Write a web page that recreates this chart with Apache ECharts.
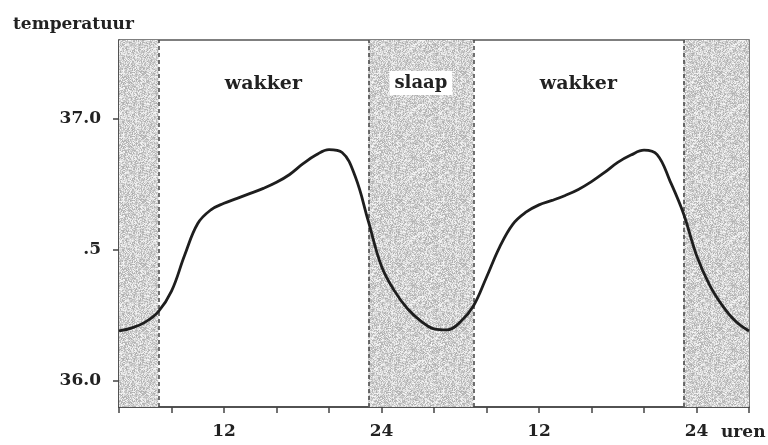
<!DOCTYPE html>
<html><head><meta charset="utf-8">
<script src="https://cdn.jsdelivr.net/npm/echarts@6/dist/echarts.min.js"></script>
<style>html,body{margin:0;padding:0;background:#fff}#c{width:768px;height:445px}</style>
</head><body><div id="c"></div>
<script>
// data
const hours = [4,5,6,7,8,9,10,11,12,13,14,15,16,17,18,19,20,21,22,23,24,25,26,27,28,29,30,31,32,33,34,35,36,37,38,39,40,41,42,43,44,45,46,47,48,49,50,51,52];
const temps = [36.190,36.202,36.224,36.264,36.342,36.479,36.600,36.652,36.677,36.696,36.715,36.734,36.757,36.787,36.827,36.861,36.882,36.871,36.779,36.608,36.437,36.342,36.274,36.228,36.198,36.194,36.224,36.285,36.395,36.510,36.597,36.643,36.671,36.688,36.707,36.730,36.760,36.795,36.833,36.861,36.880,36.863,36.760,36.639,36.479,36.365,36.285,36.226,36.190];
const sleepPeriods = [[4,7],[23,31],[47,52]];
const wakePeriods = [[7,23],[31,47]];
const sleepLabel = 'slaap';
const wakeLabel = 'wakker';
const sleepBorders = [7,23,31,47];
const xLabelValues = [12,24,36,48];
const xLabelTexts = ['12','24','12','24'];
const yLabelValues = [36.0,36.5,37.0];
const yLabelTexts = ['36.0','.5','37.0'];
const yTitle = 'temperatuur';
const xTitle = 'uren';

// stipple texture (deterministic)
const pc = document.createElement('canvas');
pc.width = 64; pc.height = 64;
const pctx = pc.getContext('2d');
const img = pctx.createImageData(64,64);
for (let j=0;j<64;j++) for (let i=0;i<64;i++) {
  let h = (i*374761393 + j*668265263) >>> 0;
  h = ((h ^ (h >>> 13)) * 1274126177) >>> 0;
  h = (h ^ (h >>> 16)) & 255;
  const g = 172 + Math.round(h/255*76);
  const k = (j*64+i)*4;
  img.data[k]=g; img.data[k+1]=g; img.data[k+2]=g; img.data[k+3]=255;
}
pctx.putImageData(img,0,0);

const font = 'DejaVu Serif';
const chart = echarts.init(document.getElementById('c'));
chart.setOption({
  animation:false,
  backgroundColor:'#fff',
  title:[
    {text:yTitle,left:8,top:11,textStyle:{fontFamily:font,fontWeight:'bold',fontSize:17,color:'#222'}},
    {text:xTitle,left:716,top:419,textStyle:{fontFamily:font,fontWeight:'bold',fontSize:17,color:'#222'}}
  ],
  grid:{left:119,right:19,top:40,bottom:38,show:true,borderColor:'#555',borderWidth:1.5,backgroundColor:'transparent'},
  xAxis:{type:'value',min:4,max:52,interval:4,
    axisLine:{show:true,lineStyle:{color:'#444',width:1.5}},
    axisTick:{show:true,length:6,lineStyle:{color:'#444',width:1.5}},
    splitLine:{show:false},
    axisLabel:{customValues:xLabelValues,margin:16,fontFamily:font,fontWeight:'bold',fontSize:17,color:'#222',
      formatter:v=>xLabelTexts[xLabelValues.indexOf(v)] ?? ''}
  },
  yAxis:{type:'value',min:35.9,max:37.3,
    axisLine:{show:true,lineStyle:{color:'#444',width:1.5}},
    axisTick:{show:true,length:6,customValues:yLabelValues,lineStyle:{color:'#444',width:1.5}},
    splitLine:{show:false},
    axisLabel:{customValues:yLabelValues,margin:18,fontFamily:font,fontWeight:'bold',fontSize:17,color:'#222',
      formatter:v=>{const i=yLabelValues.findIndex(x=>Math.abs(x-v)<1e-6);return i>=0?yLabelTexts[i]:'';}}
  },
  series:[
    {type:'line',data:[],z:1,silent:true,
      markArea:{silent:true,
        data:[
          ...sleepPeriods.map((p,idx)=>[{xAxis:p[0],itemStyle:{color:{image:pc,repeat:'repeat'}},
            label:{show:idx===1,formatter:sleepLabel,position:'insideTop',distance:31,fontFamily:font,fontWeight:'bold',fontSize:18,color:'#222',backgroundColor:'#fff',padding:[3,5]}},{xAxis:p[1]}]),
          ...wakePeriods.map(p=>[{xAxis:p[0],itemStyle:{color:'rgba(0,0,0,0)'},
            label:{show:true,formatter:wakeLabel,position:'insideTop',distance:35,fontFamily:font,fontWeight:'bold',fontSize:19,color:'#222'}},{xAxis:p[1]}])
        ]},
      markLine:{silent:true,symbol:'none',label:{show:false},
        lineStyle:{type:[4,3],color:'#444',width:1.5},
        data:sleepBorders.map(v=>({xAxis:v}))}
    },
    {type:'line',z:5,data:hours.map((h,i)=>[h,temps[i]]),smooth:0.4,showSymbol:false,
      lineStyle:{color:'#1e1e1e',width:2.8}}
  ]
});
</script></body></html>
